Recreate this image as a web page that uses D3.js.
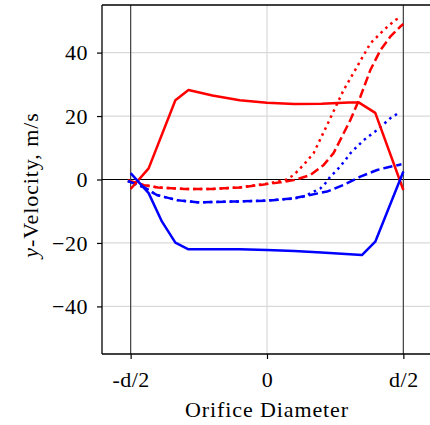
<!DOCTYPE html>
<html><head><meta charset="utf-8">
<script src="https://cdn.jsdelivr.net/npm/d3@7"></script>
<style>body{margin:0;background:#fff}svg{display:block}text{font-family:"Liberation Serif",serif;fill:#000}</style>
</head><body><svg id="c" width="430" height="425"></svg>
<script>
// x positions in units of diameter d (-0.5 = -d/2, 0.5 = d/2)
const xTicks = [-0.5, 0, 0.5];
const xTickLabels = ["-d/2", "0", "d/2"];
const yTicks = [-40, -20, 0, 20, 40];

const redSolidX = [-0.5, -0.434, -0.336, -0.288, -0.2, -0.1, 0, 0.1, 0.2, 0.3, 0.336, 0.397, 0.5];
const redSolidY = [-3, 3.5, 25, 28.2, 26.5, 25, 24.2, 23.8, 23.9, 24.3, 24.3, 21, -3.3];

const blueSolidX = [-0.5, -0.434, -0.385, -0.336, -0.288, -0.1, 0, 0.1, 0.2, 0.348, 0.397, 0.5];
const blueSolidY = [2, -4.3, -13.3, -19.9, -22, -22, -22.2, -22.5, -23, -23.8, -19.6, 2.5];

const redDashX = [-0.51, -0.45, -0.4, -0.3, -0.2, -0.1, -0.024, 0.05, 0.098, 0.159, 0.208, 0.244, 0.306, 0.342, 0.379, 0.416, 0.452, 0.489, 0.5];
const redDashY = [-0.3, -1.8, -2.5, -3, -3, -2.5, -1.7, -0.9, -0.2, 1.4, 4.6, 8.3, 18.8, 26, 34.5, 40.8, 45, 48.2, 49];

const redDotX = [-0.51, -0.45, -0.4, -0.3, -0.2, -0.1, 0, 0.067, 0.098, 0.134, 0.171, 0.232, 0.281, 0.330, 0.379, 0.428, 0.471, 0.49];
const redDotY = [-0.3, -1.8, -2.5, -3, -3, -2.5, -1.3, -0.2, 1.4, 4.6, 8.3, 19.3, 28.2, 35.5, 42.9, 47.1, 50.3, 51];

const blueDashX = [-0.51, -0.45, -0.404, -0.33, -0.257, -0.15, -0.05, 0, 0.098, 0.22, 0.281, 0.342, 0.404, 0.44, 0.483, 0.493];
const blueDashY = [-0.5, -2.5, -4.9, -6.5, -7.2, -7, -6.8, -6.7, -5.9, -3.8, -1.7, 0.9, 3, 3.8, 4.6, 4.8];

const blueDotX = [-0.51, -0.45, -0.404, -0.33, -0.257, -0.15, -0.05, 0, 0.05, 0.098, 0.134, 0.196, 0.214, 0.232, 0.257, 0.287, 0.306, 0.354, 0.404, 0.452, 0.483];
const blueDotY = [-0.5, -2.5, -4.9, -6.5, -7.2, -7, -6.8, -6.6, -6.3, -6, -5.4, -2.8, -1.2, 0.9, 3, 6.1, 8.3, 12.4, 15.6, 19.3, 21];

const series = [
  {xs: redDotX, ys: redDotY, color: "#ff0000", dash: "2.5,4.1"},
  {xs: redDashX, ys: redDashY, color: "#ff0000", dash: "9.25,4"},
  {xs: blueDotX, ys: blueDotY, color: "#0000ff", dash: "2.5,4.1"},
  {xs: blueDashX, ys: blueDashY, color: "#0000ff", dash: "9.25,4"},
  {xs: redSolidX, ys: redSolidY, color: "#ff0000", dash: null},
  {xs: blueSolidX, ys: blueSolidY, color: "#0000ff", dash: null}
];

const L = 102, R = 432, T = 5, B = 354;
const x = d3.scaleLinear().domain([-0.605, 0.605]).range([L, R]);
const y = d3.scaleLinear().domain([-55, 55]).range([B, T]);
const svg = d3.select("#c");

svg.append("defs").append("clipPath").attr("id","clip")
  .append("rect").attr("x",L).attr("y",T).attr("width",R-L).attr("height",B-T);

// grid
const g = svg.append("g");
g.selectAll(".gy").data(yTicks).join("line")
  .attr("x1",L).attr("x2",R).attr("y1",d=>y(d)).attr("y2",d=>y(d))
  .attr("stroke","#d9d9d9").attr("stroke-width",1.2);
g.selectAll(".gx").data(xTicks).join("line")
  .attr("y1",T).attr("y2",B).attr("x1",d=>x(d)).attr("x2",d=>x(d))
  .attr("stroke","#d9d9d9").attr("stroke-width",1.2);

// reference lines
svg.append("line").attr("x1",L).attr("x2",R).attr("y1",y(0)).attr("y2",y(0)).attr("stroke","#000").attr("stroke-width",1.1);
[-0.5,0.5].forEach(v=>svg.append("line").attr("x1",x(v)).attr("x2",x(v)).attr("y1",T).attr("y2",B).attr("stroke","#444").attr("stroke-width",1.2));

// series
const line = d3.line().x(d=>x(d[0])).y(d=>y(d[1]));
const sg = svg.append("g").attr("clip-path","url(#clip)");
series.forEach(s=>{
  sg.append("path").datum(s.xs.map((v,i)=>[v,s.ys[i]]))
    .attr("d",line).attr("fill","none").attr("stroke",s.color)
    .attr("stroke-width",2.5).attr("stroke-linejoin","round")
    .attr("stroke-dasharray",s.dash);
});

// axes
const xAxis = d3.axisBottom(x).tickValues(xTicks).tickFormat((d,i)=>xTickLabels[i]).tickSize(5).tickPadding(12);
const yAxis = d3.axisLeft(y).tickValues(yTicks).tickFormat(d=>d<0?"\u2212"+Math.abs(d):d).tickSize(5).tickPadding(9);
const xa = svg.append("g").attr("transform",`translate(0,${B})`).call(xAxis);
const ya = svg.append("g").attr("transform",`translate(${L},0)`).call(yAxis);
[xa,ya].forEach(a=>{
  a.select(".domain").remove();
  a.selectAll(".tick line").attr("stroke","#000").attr("stroke-width",1.2);
  a.selectAll("text").attr("font-size",22).attr("font-family","Liberation Serif, serif").attr("fill","#000").attr("letter-spacing",0.5);
});
// spines
svg.append("line").attr("x1",L).attr("x2",L).attr("y1",T).attr("y2",B).attr("stroke","#000").attr("stroke-width",1.3);
svg.append("line").attr("x1",L).attr("x2",R).attr("y1",B).attr("y2",B).attr("stroke","#000").attr("stroke-width",1.3);
svg.append("line").attr("x1",L).attr("x2",R).attr("y1",T).attr("y2",T).attr("stroke","#000").attr("stroke-width",1.3);
svg.append("line").attr("x1",R).attr("x2",R).attr("y1",T).attr("y2",B).attr("stroke","#000").attr("stroke-width",1.3);

// labels
svg.append("text").attr("x",267).attr("y",417).attr("text-anchor","middle").attr("font-size",22).attr("letter-spacing",0.9).text("Orifice Diameter");
const yl = svg.append("text").attr("transform","translate(38,185) rotate(-90)").attr("text-anchor","middle").attr("font-size",22).attr("letter-spacing",0.9);
yl.append("tspan").attr("font-style","italic").text("y");
yl.append("tspan").text("-Velocity, m/s");
</script></body></html>
